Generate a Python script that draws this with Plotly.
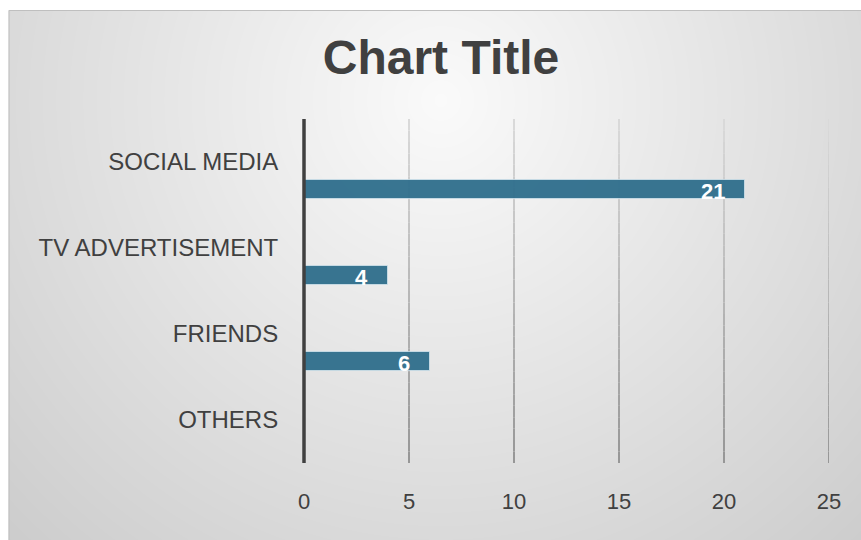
import base64
import struct
import zlib

import numpy as np
import plotly.graph_objects as go

# ---- data -------------------------------------------------------------
categories = ["SOCIAL MEDIA", "TV ADVERTISEMENT", "FRIENDS", "OTHERS"]
values = [21, 4, 6, None]
x_ticks = [0, 5, 10, 15, 20, 25]
title_text = "Chart Title"

# ---- page geometry (pixels) -------------------------------------------
W_PX, H_PX = 861, 540
M_L, M_R, M_T, M_B = 303.5, 32.4, 119, 77
PLOT_W = W_PX - M_L - M_R
PLOT_H = H_PX - M_T - M_B
CHART_X0, CHART_Y0 = 8, 10          # chart-area corner inside the white page

TEXT = "#404040"
FONT = "Liberation Sans, Arial, sans-serif"


def px_to_paper_x(px):
    return (px - M_L) / PLOT_W


def px_to_paper_y(py):
    return (H_PX - M_B - py) / PLOT_H


def png_data_uri(rgb):
    """Encode an HxWx3 uint8 array as a PNG data URI."""
    h, w, _ = rgb.shape
    raw = b"".join(b"\x00" + rgb[r].tobytes() for r in range(h))

    def chunk(tag, data):
        return (struct.pack(">I", len(data)) + tag + data
                + struct.pack(">I", zlib.crc32(tag + data) & 0xFFFFFFFF))

    png = (b"\x89PNG\r\n\x1a\n"
           + chunk(b"IHDR", struct.pack(">IIBBBBB", w, h, 8, 2, 0, 0, 0))
           + chunk(b"IDAT", zlib.compress(raw, 9))
           + chunk(b"IEND", b""))
    return "data:image/png;base64," + base64.b64encode(png).decode()


# radial grey background of the chart area, brightest behind the title
bg_w, bg_h = W_PX - CHART_X0, H_PX - CHART_Y0
yy, xx = np.mgrid[0:bg_h, 0:bg_w].astype(float)
dist = np.hypot(xx + CHART_X0 - 440, yy + CHART_Y0 - 100)
shade = np.clip(250 - 0.074 * dist, 195, 251).round().astype(np.uint8)
bg_rgb = np.repeat(shade[:, :, None], 3, axis=2)
bg_uri = png_data_uri(np.ascontiguousarray(bg_rgb))

fig = go.Figure()

fig.add_trace(go.Bar(
    x=values,
    y=categories,
    orientation="h",
    width=0.22,
    offset=0.215,
    marker=dict(color="#33718e",
                line=dict(color="rgba(215,232,240,0.75)", width=1)),
    opacity=0.97,
    textposition="none",
    hoverinfo="skip",
    showlegend=False,
))

shapes = []

# vertical gridlines, fading from light at the top to darker at the bottom
n_seg = 30
top_c, bot_c = np.array([218, 218, 218]), np.array([150, 150, 150])
for t in x_ticks[1:]:
    for i in range(n_seg):
        f = (i + 0.5) / n_seg
        c = (top_c + (bot_c - top_c) * f).round().astype(int)
        shapes.append(dict(
            type="line", xref="x", yref="paper",
            x0=t, x1=t, y0=1 - i / n_seg, y1=1 - (i + 1) / n_seg,
            line=dict(color=f"rgb({c[0]},{c[1]},{c[2]})", width=2),
            layer="below",
        ))

# value axis baseline at the start of the x range (paper ref so it isn't clipped)
shapes.append(dict(
    type="line", xref="paper", yref="paper", x0=0, x1=0, y0=0, y1=1,
    line=dict(color=TEXT, width=3.5), layer="above",
))

# thin frame of the chart area
shapes.append(dict(
    type="rect", xref="paper", yref="paper",
    x0=px_to_paper_x(CHART_X0 + 0.5), x1=px_to_paper_x(W_PX + 2),
    y0=px_to_paper_y(H_PX + 2), y1=px_to_paper_y(CHART_Y0 + 0.5),
    line=dict(color="#bfbfbf", width=1), fillcolor="rgba(0,0,0,0)",
    layer="below",
))

# data labels at the end of each bar
annotations = []
for cat, val in zip(categories, values):
    if val is None:
        continue
    annotations.append(dict(
        x=val, y=cat, xref="x", yref="y",
        text=str(val), showarrow=False,
        xanchor="right", yanchor="middle",
        xshift=-18, yshift=-29,
        font=dict(family=FONT, size=22, color="white", weight="bold"),
    ))

fig.update_layout(
    width=W_PX, height=H_PX,
    margin=dict(l=M_L, r=M_R, t=M_T, b=M_B, pad=0),
    paper_bgcolor="white",
    plot_bgcolor="rgba(0,0,0,0)",
    font=dict(family=FONT, color=TEXT),
    showlegend=False,
    bargap=0,
    title=dict(
        text=title_text,
        x=441 / W_PX, xref="container", xanchor="center",
        y=1 - 57 / H_PX, yref="container", yanchor="middle",
        font=dict(family=FONT, size=48, color=TEXT, weight="bold"),
    ),
    xaxis=dict(
        range=[0, 25],
        tickvals=x_ticks,
        showgrid=False, zeroline=False, showline=False,
        ticks="outside", ticklen=19, tickcolor="rgba(0,0,0,0)",
        tickfont=dict(family=FONT, size=22, color=TEXT),
        fixedrange=True,
    ),
    yaxis=dict(
        type="category",
        categoryorder="array", categoryarray=categories,
        range=[3.5, -0.5],
        showgrid=False, zeroline=False, showline=False,
        ticks="outside", ticklen=20, tickcolor="rgba(0,0,0,0)",
        tickfont=dict(family=FONT, size=24, color=TEXT),
        fixedrange=True,
    ),
    shapes=shapes,
    annotations=annotations,
    images=[dict(
        source=bg_uri,
        xref="paper", yref="paper",
        x=px_to_paper_x(CHART_X0), y=px_to_paper_y(CHART_Y0),
        sizex=bg_w / PLOT_W, sizey=bg_h / PLOT_H,
        xanchor="left", yanchor="top",
        sizing="stretch", layer="below",
    )],
)

fig.write_html("out.html", config={"displayModeBar": False})
